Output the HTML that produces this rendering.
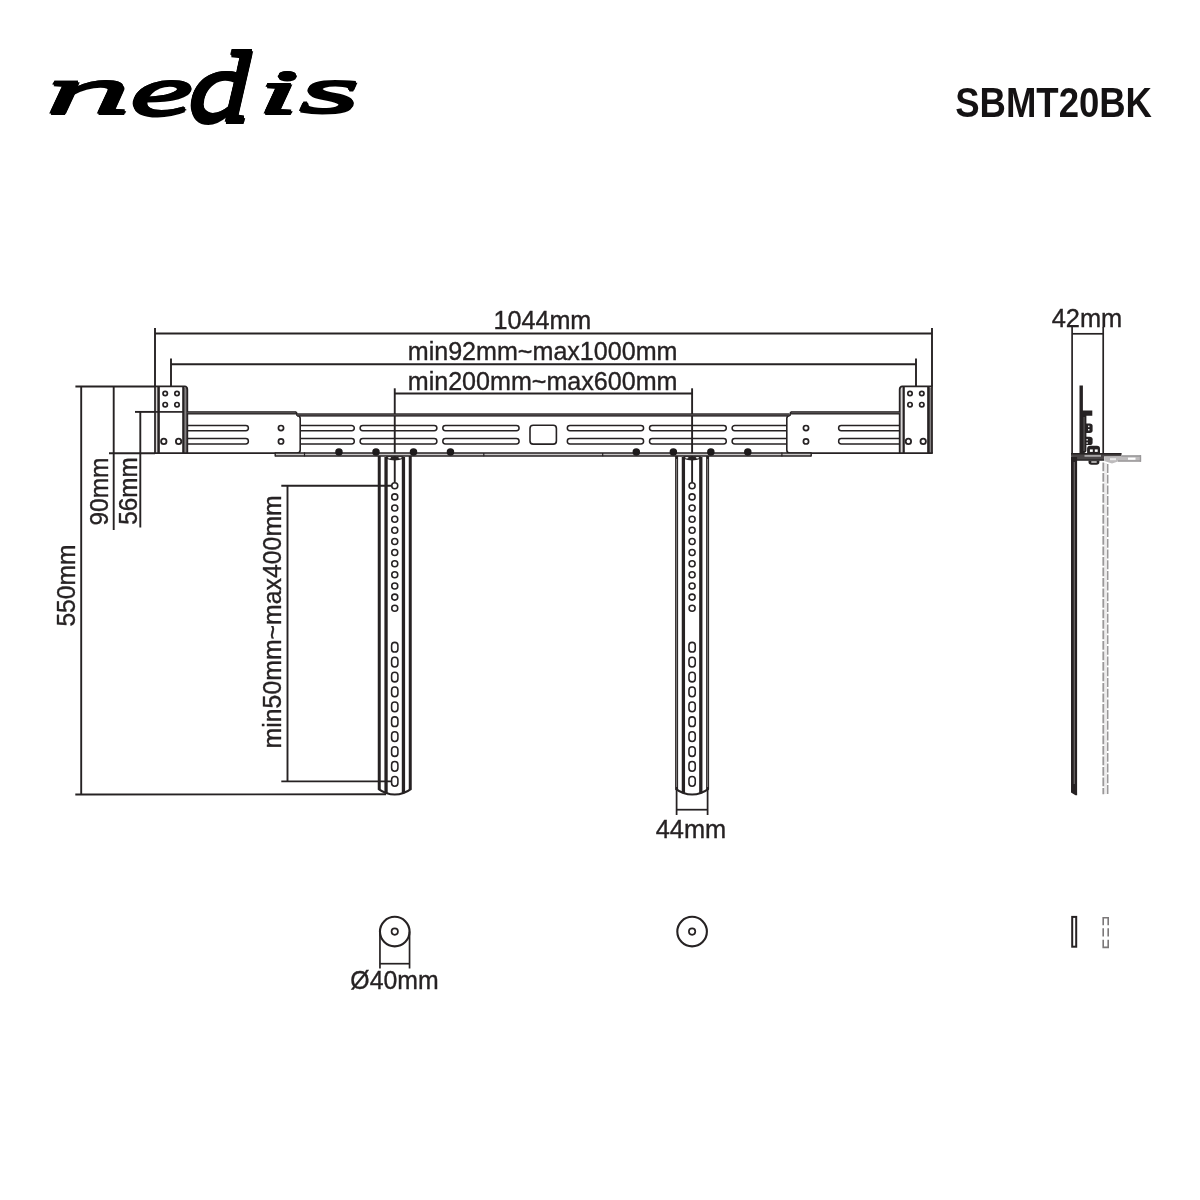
<!DOCTYPE html>
<html lang="en">
<head>
<meta charset="utf-8">
<title>nedis SBMT20BK – dimensions</title>
<style>
html,body{margin:0;padding:0;background:#fff;}
body{width:1200px;height:1200px;overflow:hidden;}
svg{display:block;will-change:transform;}
text{white-space:pre;}
body{position:relative;}
.logo{position:absolute;left:0;top:0;width:0;height:0;font:italic normal 200px/1 "Liberation Serif",serif;color:#000;-webkit-text-stroke:3px #000;text-shadow:0 1.5px 0 #000,0 -1.5px 0 #000,0 3.0px 0 #000,0 -3.0px 0 #000,0 4.5px 0 #000,0 -4.5px 0 #000,0 6.0px 0 #000,0 -6.0px 0 #000;}
.logo span{position:absolute;left:0;top:0;transform-origin:0 0;white-space:pre}
</style>
</head>
<body>
<svg width="1200" height="1200" viewBox="0 0 1200 1200">
<rect width="1200" height="1200" fill="#ffffff"/>
<text x="955.20" y="117.00" font-size="43.2" text-anchor="start" font-weight="bold" font-family='"Liberation Sans", sans-serif' fill="#141213" stroke="#141213" stroke-width="0" textLength="196.8" lengthAdjust="spacingAndGlyphs" id="model">SBMT20BK</text>
<line x1="155.00" y1="328.00" x2="155.00" y2="386.00" stroke="#262223" stroke-width="1.9" />
<line x1="932.00" y1="328.00" x2="932.00" y2="386.00" stroke="#262223" stroke-width="1.9" />
<line x1="155.00" y1="333.50" x2="932.00" y2="333.50" stroke="#262223" stroke-width="1.9" />
<line x1="171.00" y1="358.50" x2="171.00" y2="386.00" stroke="#262223" stroke-width="1.9" />
<line x1="916.00" y1="358.50" x2="916.00" y2="386.00" stroke="#262223" stroke-width="1.9" />
<line x1="171.00" y1="364.20" x2="916.00" y2="364.20" stroke="#262223" stroke-width="1.9" />
<line x1="394.75" y1="388.30" x2="394.75" y2="482.30" stroke="#262223" stroke-width="1.9" />
<line x1="692.10" y1="388.30" x2="692.10" y2="482.30" stroke="#262223" stroke-width="1.9" />
<line x1="394.75" y1="393.50" x2="692.10" y2="393.50" stroke="#262223" stroke-width="1.9" />
<text x="542.40" y="329.30" font-size="25.2" text-anchor="middle" font-weight="normal" font-family='"Liberation Sans", sans-serif' fill="#262223" stroke="#262223" stroke-width="0.35" textLength="97.9" lengthAdjust="spacingAndGlyphs" >1044mm</text>
<text x="542.60" y="360.20" font-size="25.2" text-anchor="middle" font-weight="normal" font-family='"Liberation Sans", sans-serif' fill="#262223" stroke="#262223" stroke-width="0.35" textLength="269.7" lengthAdjust="spacingAndGlyphs" >min92mm~max1000mm</text>
<text x="542.60" y="389.70" font-size="25.2" text-anchor="middle" font-weight="normal" font-family='"Liberation Sans", sans-serif' fill="#262223" stroke="#262223" stroke-width="0.35" textLength="269.7" lengthAdjust="spacingAndGlyphs" >min200mm~max600mm</text>
<line x1="75.40" y1="386.50" x2="155.00" y2="386.50" stroke="#262223" stroke-width="1.9" />
<line x1="81.20" y1="386.50" x2="81.20" y2="794.50" stroke="#262223" stroke-width="1.9" />
<line x1="75.30" y1="794.50" x2="386.00" y2="794.30" stroke="#262223" stroke-width="1.9" />
<line x1="113.70" y1="386.50" x2="113.70" y2="530.00" stroke="#262223" stroke-width="1.9" />
<line x1="109.00" y1="453.20" x2="155.00" y2="453.20" stroke="#262223" stroke-width="1.9" />
<line x1="135.00" y1="411.90" x2="155.00" y2="411.90" stroke="#262223" stroke-width="1.9" />
<line x1="140.30" y1="411.90" x2="140.30" y2="527.50" stroke="#262223" stroke-width="1.9" />
<text x="75.50" y="585.60" font-size="25.2" text-anchor="middle" font-weight="normal" font-family='"Liberation Sans", sans-serif' fill="#262223" stroke="#262223" stroke-width="0.35" textLength="82" lengthAdjust="spacingAndGlyphs" transform="rotate(-90 75.50 585.60)" >550mm</text>
<text x="108.30" y="491.50" font-size="25.2" text-anchor="middle" font-weight="normal" font-family='"Liberation Sans", sans-serif' fill="#262223" stroke="#262223" stroke-width="0.35" textLength="68" lengthAdjust="spacingAndGlyphs" transform="rotate(-90 108.30 491.50)" >90mm</text>
<text x="136.70" y="491.00" font-size="25.2" text-anchor="middle" font-weight="normal" font-family='"Liberation Sans", sans-serif' fill="#262223" stroke="#262223" stroke-width="0.35" textLength="67.5" lengthAdjust="spacingAndGlyphs" transform="rotate(-90 136.70 491.00)" >56mm</text>
<line x1="281.30" y1="485.75" x2="391.60" y2="485.75" stroke="#262223" stroke-width="1.9" />
<line x1="281.30" y1="781.40" x2="391.40" y2="781.40" stroke="#262223" stroke-width="1.9" />
<line x1="287.50" y1="485.75" x2="287.50" y2="781.40" stroke="#262223" stroke-width="1.9" />
<text x="280.60" y="621.80" font-size="25.2" text-anchor="middle" font-weight="normal" font-family='"Liberation Sans", sans-serif' fill="#262223" stroke="#262223" stroke-width="0.35" textLength="253.2" lengthAdjust="spacingAndGlyphs" transform="rotate(-90 280.60 621.80)" >min50mm~max400mm</text>
<rect x="155.00" y="386.8" width="3.60" height="66.2" fill="#d6d4d4"/>
<rect x="183.30" y="387.6" width="4.00" height="65.4" fill="#858283"/>
<line x1="155.00" y1="386.30" x2="155.00" y2="453.10" stroke="#262223" stroke-width="1.75" />
<line x1="158.60" y1="386.30" x2="158.60" y2="453.10" stroke="#262223" stroke-width="2.5" />
<line x1="183.30" y1="386.30" x2="183.30" y2="453.10" stroke="#262223" stroke-width="2.2" />
<path d="M154.20,386.3 L184.60,386.3 Q187.30,386.5 187.30,389.4 L187.30,453.1" fill="none" stroke="#262223" stroke-width="1.8" />
<line x1="154.20" y1="453.10" x2="188.00" y2="453.10" stroke="#262223" stroke-width="1.8" />
<line x1="155.00" y1="411.90" x2="183.30" y2="411.90" stroke="#262223" stroke-width="1.7" />
<circle cx="165.20" cy="393.50" r="2.2" fill="none" stroke="#262223" stroke-width="1.7"/>
<circle cx="165.20" cy="404.70" r="2.2" fill="none" stroke="#262223" stroke-width="1.7"/>
<circle cx="177.00" cy="393.50" r="2.2" fill="none" stroke="#262223" stroke-width="1.7"/>
<circle cx="177.00" cy="404.70" r="2.2" fill="none" stroke="#262223" stroke-width="1.7"/>
<circle cx="163.80" cy="441.40" r="2.7" fill="none" stroke="#262223" stroke-width="1.8"/>
<circle cx="178.60" cy="441.40" r="2.7" fill="none" stroke="#262223" stroke-width="1.8"/>
<rect x="899.70" y="386.8" width="4.00" height="66.2" fill="#d6d4d4"/>
<rect x="928.40" y="387.6" width="3.60" height="65.4" fill="#858283"/>
<line x1="932.00" y1="386.30" x2="932.00" y2="453.10" stroke="#262223" stroke-width="1.75" />
<line x1="928.40" y1="386.30" x2="928.40" y2="453.10" stroke="#262223" stroke-width="2.5" />
<line x1="903.70" y1="386.30" x2="903.70" y2="453.10" stroke="#262223" stroke-width="2.2" />
<path d="M932.80,386.3 L902.40,386.3 Q899.70,386.5 899.70,389.4 L899.70,453.1" fill="none" stroke="#262223" stroke-width="1.8" />
<line x1="932.80" y1="453.10" x2="899.00" y2="453.10" stroke="#262223" stroke-width="1.8" />
<circle cx="921.80" cy="393.50" r="2.2" fill="none" stroke="#262223" stroke-width="1.7"/>
<circle cx="921.80" cy="404.70" r="2.2" fill="none" stroke="#262223" stroke-width="1.7"/>
<circle cx="910.00" cy="393.50" r="2.2" fill="none" stroke="#262223" stroke-width="1.7"/>
<circle cx="910.00" cy="404.70" r="2.2" fill="none" stroke="#262223" stroke-width="1.7"/>
<circle cx="923.20" cy="441.40" r="2.7" fill="none" stroke="#262223" stroke-width="1.8"/>
<circle cx="908.40" cy="441.40" r="2.7" fill="none" stroke="#262223" stroke-width="1.8"/>
<rect x="187.30" y="411.2" width="109.00" height="3.3" fill="#262223"/>
<rect x="187.30" y="412.4" width="109.00" height="0.8" fill="#6d696a"/>
<path d="M296.30,411.9 L297.00,415.2 Q300.20,415.6 300.20,418.5 L300.20,450.0 Q300.20,453.1 297.00,453.1" fill="none" stroke="#262223" stroke-width="1.6" />
<line x1="187.30" y1="453.10" x2="297.00" y2="453.10" stroke="#262223" stroke-width="1.6" />
<path d="M187.30,425.5 L245.80,425.5 A2.5999999999999943,2.5999999999999943 0 0 1 245.80,430.7 L187.30,430.7" fill="none" stroke="#262223" stroke-width="1.5" />
<path d="M187.30,438.6 L245.75,438.6 A2.6499999999999773,2.6499999999999773 0 0 1 245.75,443.9 L187.30,443.9" fill="none" stroke="#262223" stroke-width="1.5" />
<circle cx="281.00" cy="428.10" r="2.6" fill="none" stroke="#262223" stroke-width="1.7"/>
<circle cx="281.00" cy="441.40" r="2.6" fill="none" stroke="#262223" stroke-width="1.7"/>
<rect x="790.70" y="411.2" width="109.00" height="3.3" fill="#262223"/>
<rect x="790.70" y="412.4" width="109.00" height="0.8" fill="#6d696a"/>
<path d="M790.70,411.9 L790.00,415.2 Q786.80,415.6 786.80,418.5 L786.80,450.0 Q786.80,453.1 790.00,453.1" fill="none" stroke="#262223" stroke-width="1.6" />
<line x1="899.70" y1="453.10" x2="790.00" y2="453.10" stroke="#262223" stroke-width="1.6" />
<path d="M899.70,425.5 L841.20,425.5 A2.5999999999999943,2.5999999999999943 0 0 0 841.20,430.7 L899.70,430.7" fill="none" stroke="#262223" stroke-width="1.5" />
<path d="M899.70,438.6 L841.25,438.6 A2.6499999999999773,2.6499999999999773 0 0 0 841.25,443.9 L899.70,443.9" fill="none" stroke="#262223" stroke-width="1.5" />
<circle cx="806.00" cy="428.10" r="2.6" fill="none" stroke="#262223" stroke-width="1.7"/>
<circle cx="806.00" cy="441.40" r="2.6" fill="none" stroke="#262223" stroke-width="1.7"/>
<rect x="297.0" y="413.3" width="492.40" height="3.3" fill="#262223"/>
<rect x="297.0" y="414.5" width="492.40" height="0.8" fill="#6d696a"/>
<rect x="275.2" y="453.1" width="536.00" height="3.0" fill="#c9c7c7"/>
<line x1="275.20" y1="453.10" x2="811.20" y2="453.10" stroke="#262223" stroke-width="1.5" />
<line x1="275.20" y1="456.00" x2="811.20" y2="456.00" stroke="#262223" stroke-width="1.4" />
<line x1="275.20" y1="452.60" x2="275.20" y2="456.60" stroke="#262223" stroke-width="1.4" />
<line x1="811.20" y1="452.60" x2="811.20" y2="456.60" stroke="#262223" stroke-width="1.4" />
<line x1="304.50" y1="452.40" x2="304.50" y2="456.40" stroke="#262223" stroke-width="1.2" />
<line x1="781.90" y1="452.40" x2="781.90" y2="456.40" stroke="#262223" stroke-width="1.2" />
<line x1="483.80" y1="453.00" x2="483.80" y2="456.20" stroke="#262223" stroke-width="1.2" />
<line x1="602.70" y1="453.00" x2="602.70" y2="456.20" stroke="#262223" stroke-width="1.2" />
<path d="M300.90,425.4 L351.60,425.4 A2.700000000000017,2.700000000000017 0 0 1 351.60,430.8 L300.90,430.8" fill="none" stroke="#262223" stroke-width="1.5" />
<rect x="360.10" y="425.40" width="76.80" height="5.40" rx="2.700000000000017" fill="none" stroke="#262223" stroke-width="1.5"/>
<rect x="442.80" y="425.40" width="76.30" height="5.40" rx="2.700000000000017" fill="none" stroke="#262223" stroke-width="1.5"/>
<rect x="567.30" y="425.40" width="76.30" height="5.40" rx="2.700000000000017" fill="none" stroke="#262223" stroke-width="1.5"/>
<rect x="649.50" y="425.40" width="76.80" height="5.40" rx="2.700000000000017" fill="none" stroke="#262223" stroke-width="1.5"/>
<path d="M786.10,425.4 L734.80,425.4 A2.700000000000017,2.700000000000017 0 0 0 734.80,430.8 L786.10,430.8" fill="none" stroke="#262223" stroke-width="1.5" />
<path d="M300.90,438.6 L351.60,438.6 A2.6999999999999886,2.6999999999999886 0 0 1 351.60,444.0 L300.90,444.0" fill="none" stroke="#262223" stroke-width="1.5" />
<rect x="360.10" y="438.60" width="76.80" height="5.40" rx="2.6999999999999886" fill="none" stroke="#262223" stroke-width="1.5"/>
<rect x="442.80" y="438.60" width="76.30" height="5.40" rx="2.6999999999999886" fill="none" stroke="#262223" stroke-width="1.5"/>
<rect x="567.30" y="438.60" width="76.30" height="5.40" rx="2.6999999999999886" fill="none" stroke="#262223" stroke-width="1.5"/>
<rect x="649.50" y="438.60" width="76.80" height="5.40" rx="2.6999999999999886" fill="none" stroke="#262223" stroke-width="1.5"/>
<path d="M786.10,438.6 L734.80,438.6 A2.6999999999999886,2.6999999999999886 0 0 0 734.80,444.0 L786.10,444.0" fill="none" stroke="#262223" stroke-width="1.5" />
<rect x="530.00" y="425.30" width="26.40" height="18.80" rx="3.2" fill="none" stroke="#262223" stroke-width="1.6"/>
<circle cx="338.95" cy="452.00" r="3.0" fill="#1d1a1b" stroke="#1d1a1b" stroke-width="1.5"/>
<circle cx="376.00" cy="452.00" r="3.0" fill="#1d1a1b" stroke="#1d1a1b" stroke-width="1.5"/>
<circle cx="413.50" cy="452.00" r="3.0" fill="#1d1a1b" stroke="#1d1a1b" stroke-width="1.5"/>
<circle cx="450.45" cy="452.00" r="3.0" fill="#1d1a1b" stroke="#1d1a1b" stroke-width="1.5"/>
<circle cx="636.30" cy="452.00" r="3.0" fill="#1d1a1b" stroke="#1d1a1b" stroke-width="1.5"/>
<circle cx="673.35" cy="452.00" r="3.0" fill="#1d1a1b" stroke="#1d1a1b" stroke-width="1.5"/>
<circle cx="710.85" cy="452.00" r="3.0" fill="#1d1a1b" stroke="#1d1a1b" stroke-width="1.5"/>
<circle cx="747.80" cy="452.00" r="3.0" fill="#1d1a1b" stroke="#1d1a1b" stroke-width="1.5"/>
<line x1="379.25" y1="456.00" x2="379.25" y2="789.60" stroke="#262223" stroke-width="3.0" />
<line x1="410.25" y1="456.00" x2="410.25" y2="789.60" stroke="#262223" stroke-width="3.0" />
<path d="M378.35,788.9 Q381.25,791.2 386.05,793.0 Q394.75,796.2 403.45,793.0 Q408.25,791.2 411.15,788.9" fill="none" stroke="#262223" stroke-width="2.0" />
<line x1="386.05" y1="457.00" x2="386.05" y2="793.20" stroke="#262223" stroke-width="3.3" />
<line x1="403.45" y1="457.00" x2="403.45" y2="793.20" stroke="#262223" stroke-width="3.3" />
<path d="M386.05,456.2 L403.45,456.2 L403.45,458.8 Q394.75,462.4 386.05,458.8 Z" fill="#262223"/>
<ellipse cx="389.45" cy="457.7" rx="1.7" ry="0.8" fill="#fff"/><ellipse cx="400.05" cy="457.7" rx="1.7" ry="0.8" fill="#fff"/>
<circle cx="394.75" cy="485.75" r="3.0" fill="none" stroke="#262223" stroke-width="1.55"/>
<circle cx="394.75" cy="496.89" r="3.0" fill="none" stroke="#262223" stroke-width="1.55"/>
<circle cx="394.75" cy="508.02" r="3.0" fill="none" stroke="#262223" stroke-width="1.55"/>
<circle cx="394.75" cy="519.16" r="3.0" fill="none" stroke="#262223" stroke-width="1.55"/>
<circle cx="394.75" cy="530.29" r="3.0" fill="none" stroke="#262223" stroke-width="1.55"/>
<circle cx="394.75" cy="541.43" r="3.0" fill="none" stroke="#262223" stroke-width="1.55"/>
<circle cx="394.75" cy="552.57" r="3.0" fill="none" stroke="#262223" stroke-width="1.55"/>
<circle cx="394.75" cy="563.70" r="3.0" fill="none" stroke="#262223" stroke-width="1.55"/>
<circle cx="394.75" cy="574.84" r="3.0" fill="none" stroke="#262223" stroke-width="1.55"/>
<circle cx="394.75" cy="585.97" r="3.0" fill="none" stroke="#262223" stroke-width="1.55"/>
<circle cx="394.75" cy="597.11" r="3.0" fill="none" stroke="#262223" stroke-width="1.55"/>
<circle cx="394.75" cy="608.25" r="3.0" fill="none" stroke="#262223" stroke-width="1.55"/>
<rect x="391.60" y="642.35" width="6.3" height="9.7" rx="3.15" fill="none" stroke="#262223" stroke-width="1.55"/>
<rect x="391.60" y="657.25" width="6.3" height="9.7" rx="3.15" fill="none" stroke="#262223" stroke-width="1.55"/>
<rect x="391.60" y="672.15" width="6.3" height="9.7" rx="3.15" fill="none" stroke="#262223" stroke-width="1.55"/>
<rect x="391.60" y="687.05" width="6.3" height="9.7" rx="3.15" fill="none" stroke="#262223" stroke-width="1.55"/>
<rect x="391.60" y="701.95" width="6.3" height="9.7" rx="3.15" fill="none" stroke="#262223" stroke-width="1.55"/>
<rect x="391.60" y="716.85" width="6.3" height="9.7" rx="3.15" fill="none" stroke="#262223" stroke-width="1.55"/>
<rect x="391.60" y="731.75" width="6.3" height="9.7" rx="3.15" fill="none" stroke="#262223" stroke-width="1.55"/>
<rect x="391.60" y="746.65" width="6.3" height="9.7" rx="3.15" fill="none" stroke="#262223" stroke-width="1.55"/>
<rect x="391.60" y="761.55" width="6.3" height="9.7" rx="3.15" fill="none" stroke="#262223" stroke-width="1.55"/>
<rect x="391.60" y="776.45" width="6.3" height="9.7" rx="3.15" fill="none" stroke="#262223" stroke-width="1.55"/>
<line x1="676.60" y1="456.00" x2="676.60" y2="789.60" stroke="#262223" stroke-width="3.0" />
<line x1="707.60" y1="456.00" x2="707.60" y2="789.60" stroke="#262223" stroke-width="3.0" />
<path d="M675.70,788.9 Q678.60,791.2 683.40,793.0 Q692.10,796.2 700.80,793.0 Q705.60,791.2 708.50,788.9" fill="none" stroke="#262223" stroke-width="2.0" />
<line x1="676.60" y1="459.00" x2="676.60" y2="787.00" stroke="#8d8a8b" stroke-width="0.9" />
<line x1="707.60" y1="459.00" x2="707.60" y2="787.00" stroke="#8d8a8b" stroke-width="0.9" />
<line x1="683.40" y1="457.00" x2="683.40" y2="793.20" stroke="#262223" stroke-width="3.3" />
<line x1="700.80" y1="457.00" x2="700.80" y2="793.20" stroke="#262223" stroke-width="3.3" />
<path d="M683.40,456.2 L700.80,456.2 L700.80,458.8 Q692.10,462.4 683.40,458.8 Z" fill="#262223"/>
<ellipse cx="686.80" cy="457.7" rx="1.7" ry="0.8" fill="#fff"/><ellipse cx="697.40" cy="457.7" rx="1.7" ry="0.8" fill="#fff"/>
<circle cx="692.10" cy="485.75" r="3.0" fill="none" stroke="#262223" stroke-width="1.55"/>
<circle cx="692.10" cy="496.89" r="3.0" fill="none" stroke="#262223" stroke-width="1.55"/>
<circle cx="692.10" cy="508.02" r="3.0" fill="none" stroke="#262223" stroke-width="1.55"/>
<circle cx="692.10" cy="519.16" r="3.0" fill="none" stroke="#262223" stroke-width="1.55"/>
<circle cx="692.10" cy="530.29" r="3.0" fill="none" stroke="#262223" stroke-width="1.55"/>
<circle cx="692.10" cy="541.43" r="3.0" fill="none" stroke="#262223" stroke-width="1.55"/>
<circle cx="692.10" cy="552.57" r="3.0" fill="none" stroke="#262223" stroke-width="1.55"/>
<circle cx="692.10" cy="563.70" r="3.0" fill="none" stroke="#262223" stroke-width="1.55"/>
<circle cx="692.10" cy="574.84" r="3.0" fill="none" stroke="#262223" stroke-width="1.55"/>
<circle cx="692.10" cy="585.97" r="3.0" fill="none" stroke="#262223" stroke-width="1.55"/>
<circle cx="692.10" cy="597.11" r="3.0" fill="none" stroke="#262223" stroke-width="1.55"/>
<circle cx="692.10" cy="608.25" r="3.0" fill="none" stroke="#262223" stroke-width="1.55"/>
<rect x="688.95" y="642.35" width="6.3" height="9.7" rx="3.15" fill="none" stroke="#262223" stroke-width="1.55"/>
<rect x="688.95" y="657.25" width="6.3" height="9.7" rx="3.15" fill="none" stroke="#262223" stroke-width="1.55"/>
<rect x="688.95" y="672.15" width="6.3" height="9.7" rx="3.15" fill="none" stroke="#262223" stroke-width="1.55"/>
<rect x="688.95" y="687.05" width="6.3" height="9.7" rx="3.15" fill="none" stroke="#262223" stroke-width="1.55"/>
<rect x="688.95" y="701.95" width="6.3" height="9.7" rx="3.15" fill="none" stroke="#262223" stroke-width="1.55"/>
<rect x="688.95" y="716.85" width="6.3" height="9.7" rx="3.15" fill="none" stroke="#262223" stroke-width="1.55"/>
<rect x="688.95" y="731.75" width="6.3" height="9.7" rx="3.15" fill="none" stroke="#262223" stroke-width="1.55"/>
<rect x="688.95" y="746.65" width="6.3" height="9.7" rx="3.15" fill="none" stroke="#262223" stroke-width="1.55"/>
<rect x="688.95" y="761.55" width="6.3" height="9.7" rx="3.15" fill="none" stroke="#262223" stroke-width="1.55"/>
<rect x="688.95" y="776.45" width="6.3" height="9.7" rx="3.15" fill="none" stroke="#262223" stroke-width="1.55"/>
<line x1="676.60" y1="789.00" x2="676.60" y2="815.00" stroke="#262223" stroke-width="1.75" />
<line x1="707.60" y1="789.00" x2="707.60" y2="815.00" stroke="#262223" stroke-width="1.75" />
<line x1="676.60" y1="809.70" x2="707.60" y2="809.70" stroke="#262223" stroke-width="1.75" />
<text x="691.00" y="837.60" font-size="25.2" text-anchor="middle" font-weight="normal" font-family='"Liberation Sans", sans-serif' fill="#262223" stroke="#262223" stroke-width="0.35" textLength="70.5" lengthAdjust="spacingAndGlyphs" >44mm</text>
<circle cx="394.75" cy="931.60" r="14.8" fill="none" stroke="#262223" stroke-width="2.1"/>
<circle cx="394.75" cy="931.60" r="3.2" fill="none" stroke="#262223" stroke-width="1.7"/>
<circle cx="692.10" cy="931.60" r="14.8" fill="none" stroke="#262223" stroke-width="2.1"/>
<circle cx="692.10" cy="931.60" r="3.2" fill="none" stroke="#262223" stroke-width="1.7"/>
<line x1="379.95" y1="931.60" x2="379.95" y2="968.50" stroke="#262223" stroke-width="1.7" />
<line x1="409.55" y1="931.60" x2="409.55" y2="968.50" stroke="#262223" stroke-width="1.7" />
<line x1="379.95" y1="963.70" x2="409.55" y2="963.70" stroke="#262223" stroke-width="1.7" />
<text x="394.50" y="989.20" font-size="25.2" text-anchor="middle" font-weight="normal" font-family='"Liberation Sans", sans-serif' fill="#262223" stroke="#262223" stroke-width="0.35" textLength="88.3" lengthAdjust="spacingAndGlyphs" >Ø40mm</text>
<text x="1087.00" y="327.00" font-size="25.2" text-anchor="middle" font-weight="normal" font-family='"Liberation Sans", sans-serif' fill="#262223" stroke="#262223" stroke-width="0.35" textLength="70.6" lengthAdjust="spacingAndGlyphs" >42mm</text>
<line x1="1072.10" y1="327.00" x2="1072.10" y2="456.00" stroke="#262223" stroke-width="1.7" />
<line x1="1103.20" y1="327.00" x2="1103.20" y2="456.00" stroke="#262223" stroke-width="1.7" />
<line x1="1072.10" y1="333.80" x2="1103.20" y2="333.80" stroke="#262223" stroke-width="1.7" />
<path d="M1079.5,385.4 L1082.9,385.4 L1082.9,410.5 L1092.3,410.5 L1092.3,415.7 L1086.4,415.7 L1086.4,451 Q1085.5,453.4 1082,453.4 L1079.5,453.4 Z" fill="#262223"/>
<rect x="1083.6" y="417" width="0.9" height="34" fill="#6a6667"/>
<path d="M1085.5,423.4 L1089.6,423.4 Q1092.6,423.4 1092.6,426.0 L1092.6,430.29999999999995 Q1092.6,432.9 1089.6,432.9 L1085.5,432.9 Z" fill="#262223"/>
<rect x="1088.0" y="425.7" width="1.5" height="1.5" fill="#e8e8e8"/><rect x="1088.0" y="429.0" width="1.5" height="1.5" fill="#e8e8e8"/>
<path d="M1085.5,436.7 L1089.6,436.7 Q1092.6,436.7 1092.6,439.3 L1092.6,442.4 Q1092.6,445.0 1089.6,445.0 L1085.5,445.0 Z" fill="#262223"/>
<rect x="1086.4" y="439.0" width="1.5" height="1.5" fill="#e8e8e8"/><rect x="1086.4" y="442.3" width="1.5" height="1.5" fill="#e8e8e8"/>
<path d="M1087.1,453.4 L1087.1,448.8 Q1087.1,445.8 1090.2,445.8 L1097,445.8 Q1100,445.8 1100,448.8 L1100,453.4 Z" fill="#262223"/>
<rect x="1089.9" y="449.4" width="2.9" height="2.5" fill="#fff"/><rect x="1094.8" y="449.4" width="2.9" height="2.5" fill="#fff"/>
<path d="M1071.1,453.0 L1121.4,453.0 L1121.4,456.6 L1104,456.6 L1104,460.4 L1076.6,460.4 L1074,457.4 L1071.1,457.4 Z" fill="#4a4647"/>
<line x1="1071.10" y1="453.70" x2="1121.40" y2="453.70" stroke="#262223" stroke-width="1.4" />
<line x1="1075.60" y1="460.00" x2="1104.00" y2="460.00" stroke="#262223" stroke-width="1.2" />
<rect x="1084.5" y="454.9" width="16.5" height="1.9" fill="#a9a6a7"/>
<path d="M1088.5,460.4 L1099.4,460.4 L1099.4,462.0 Q1099.4,464.8 1096.4,464.8 L1091.5,464.8 Q1088.5,464.8 1088.5,462.0 Z" fill="#262223"/>
<rect x="1091.3" y="461.4" width="5.4" height="1.2" fill="#fff"/>
<path d="M1104.2,456.8 L1141,455.4 L1141,461.6 L1118,461.6 L1112,463.6 L1104.2,461.0 Z" fill="#bdbbbc"/>
<rect x="1121.4" y="455.2" width="19.6" height="1.6" fill="#9a9899"/><rect x="1118" y="460.3" width="23" height="1.4" fill="#9a9899"/><rect x="1139.8" y="455.2" width="1.4" height="6.5" fill="#9a9899"/>
<rect x="1128" y="457.6" width="7.5" height="2.2" fill="#fff"/><rect x="1110" y="458.2" width="6" height="2.0" fill="#ecebeb"/>
<path d="M1071.0,457 L1077.1,457 L1077.1,795.3 L1075.5,795.3 L1071.0,792.6 Z" fill="#262223"/>
<rect x="1073.7" y="462" width="1.1" height="322" fill="#6f6b6c"/>
<rect x="1104.2" y="463" width="2.8" height="331" fill="#efeeee"/>
<line x1="1103.30" y1="462.50" x2="1103.30" y2="794.20" stroke="#9a9899" stroke-width="1.8" stroke-dasharray="8.7 1.8"/>
<line x1="1107.70" y1="464.00" x2="1107.70" y2="795.60" stroke="#9a9899" stroke-width="1.5" stroke-dasharray="8.9 1.8"/>
<rect x="1072.20" y="916.90" width="4.00" height="29.80" rx="0" fill="none" stroke="#262223" stroke-width="2.0"/>
<path d="M1103.2,925.2 L1103.2,917.8 L1108.2,917.8 L1108.2,925.2 M1103.2,928.2 L1103.2,936.6 M1108.2,928.2 L1108.2,936.6 M1103.2,939.8 L1103.2,947.4 L1108.2,947.4 L1108.2,939.8" fill="none" stroke="#7b7879" stroke-width="1.6" />
</svg>
<div class="logo"><span style="transform:matrix(0.8750,0,0,0.3286,44.62,57.99)">n</span><span style="transform:matrix(0.7284,0,0,0.3472,129.36,56.74)">e</span><span style="transform:matrix(0.6392,0,0,0.4967,187.80,37.58)">d</span><span style="transform:matrix(0.8049,0,0,0.3056,255.95,61.64)">i</span><span style="transform:matrix(0.8056,0,0,0.3194,298.19,58.60)">s</span></div>
</body>
</html>
